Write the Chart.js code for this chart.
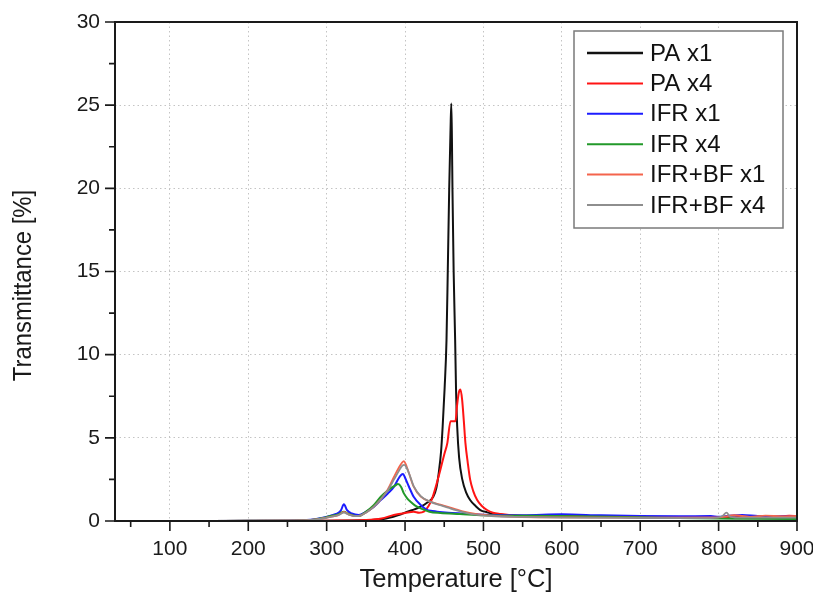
<!DOCTYPE html>
<html><head><meta charset="utf-8">
<script src="https://cdn.jsdelivr.net/npm/chart.js@4/dist/chart.umd.min.js"></script>
<style>html,body{margin:0;padding:0;background:#fff}#wrap{width:813px;height:596px}</style>
</head><body><div id="wrap"><canvas id="c" width="813" height="596"></canvas></div>
<script>
const FONT = "'Liberation Sans', Arial, Helvetica, sans-serif";

const seriesLabels = ["PA x1", "PA x4", "IFR x1", "IFR x4", "IFR+BF x1", "IFR+BF x4"];
const seriesColors = ["#111111", "#ff1414", "#1c1cff", "#22992a", "#f4644c", "#8e8e8e"];
const seriesWidths = [2, 2, 2, 2, 1.8, 1.8];
const yTitleText = "Transmittance [%]";
const xTitleText = "Temperature [\u00B0C]";

// PA x1
const paX1_T = [30, 100, 200, 300, 350, 370, 385, 395, 403, 412, 420, 428, 436, 440, 443, 446, 448, 450.5, 452.9, 454.5, 456.3, 458, 459, 459.8, 460.5, 462, 463.9, 465, 466.5, 469, 473, 478, 483, 490, 496, 505, 513, 530, 560, 600, 700, 800, 850, 900];
const paX1_V = [0, 0, 0.01, 0.02, 0.04, 0.1, 0.26, 0.4, 0.56, 0.7, 0.86, 1.1, 1.46, 2.0, 2.9, 4.2, 5.7, 8.0, 10.9, 15.0, 19.9, 23.5, 25.1, 23.0, 19.9, 15.0, 10.9, 8.0, 5.7, 3.8, 2.5, 1.7, 1.26, 0.9, 0.66, 0.52, 0.42, 0.35, 0.3, 0.28, 0.22, 0.18, 0.16, 0.15];

// PA x4
const paX4_T = [30, 200, 300, 350, 370, 385.7, 400, 411, 418, 424, 430, 434.6, 440, 445, 450, 454, 458, 464.4, 466, 468.5, 470.7, 472.8, 475, 477, 480, 483, 487, 492, 498, 504.6, 512, 521.7, 540, 600, 700, 790, 810, 820, 830, 850, 870, 890, 900];
const paX4_V = [0, 0, 0.02, 0.06, 0.15, 0.36, 0.48, 0.56, 0.5, 0.56, 0.9, 1.36, 2.2, 3.07, 4.0, 4.7, 6.0, 6.0, 6.8, 7.7, 7.9, 7.3, 6.0, 4.7, 3.5, 2.5, 1.8, 1.26, 0.9, 0.66, 0.5, 0.42, 0.33, 0.3, 0.24, 0.2, 0.22, 0.32, 0.24, 0.3, 0.26, 0.32, 0.3];

// IFR x1
const ifrX1_T = [30, 150, 250, 280, 295, 305, 312, 318, 322, 326, 332, 341, 350, 360, 369, 378, 386, 391, 395, 397.5, 400, 405, 411, 420, 428, 435, 441, 455, 475, 500, 550, 600, 650, 700, 750, 790, 800, 810, 830, 850, 900];
const ifrX1_V = [0, 0, 0.02, 0.08, 0.2, 0.32, 0.42, 0.62, 1.0, 0.65, 0.45, 0.36, 0.55, 0.85, 1.26, 1.65, 2.06, 2.5, 2.77, 2.82, 2.6, 2.06, 1.46, 0.96, 0.66, 0.6, 0.56, 0.5, 0.45, 0.38, 0.35, 0.4, 0.34, 0.3, 0.28, 0.3, 0.25, 0.3, 0.36, 0.3, 0.26];

// IFR x4
const ifrX4_T = [30, 150, 250, 280, 295, 305, 315, 322, 328, 335, 341, 350, 360, 369, 375, 381.5, 387, 391, 395, 398.5, 403, 407, 413, 420, 431, 445, 470, 500, 600, 700, 800, 900];
const ifrX4_V = [0, 0, 0.02, 0.06, 0.18, 0.3, 0.4, 0.55, 0.42, 0.32, 0.3, 0.55, 0.95, 1.46, 1.72, 1.96, 2.12, 2.22, 2.05, 1.66, 1.35, 1.16, 0.92, 0.76, 0.56, 0.48, 0.42, 0.35, 0.3, 0.22, 0.15, 0.12];

// IFR+BF x1
const ifrBfX1_T = [30, 150, 250, 280, 295, 305, 315, 322, 328, 335, 341, 350, 360, 369, 378, 386, 392, 396, 398.5, 401, 405, 411, 420, 432.5, 445, 453.6, 465, 475, 490, 510, 540, 600, 700, 800, 820, 840, 860, 880, 900];
const ifrBfX1_V = [0, 0, 0.02, 0.06, 0.15, 0.25, 0.35, 0.55, 0.4, 0.3, 0.3, 0.5, 0.85, 1.3, 1.9, 2.66, 3.2, 3.5, 3.6, 3.4, 2.87, 2.06, 1.46, 1.16, 0.98, 0.86, 0.7, 0.56, 0.42, 0.32, 0.25, 0.22, 0.2, 0.22, 0.35, 0.25, 0.32, 0.28, 0.3];

// IFR+BF x4
const ifrBfX4_T = [30, 150, 250, 280, 295, 305, 315, 322, 328, 335, 341, 350, 360, 369, 378, 386, 392, 396, 399, 402, 406, 411, 420, 432.5, 445, 455, 465, 475, 490, 510, 540, 600, 700, 790, 805, 810, 815, 830, 900];
const ifrBfX4_V = [0, 0, 0.02, 0.06, 0.15, 0.25, 0.35, 0.5, 0.38, 0.3, 0.3, 0.5, 0.85, 1.3, 1.85, 2.5, 3.0, 3.3, 3.37, 3.2, 2.75, 2.1, 1.5, 1.15, 0.95, 0.8, 0.65, 0.52, 0.38, 0.3, 0.25, 0.2, 0.18, 0.17, 0.3, 0.5, 0.25, 0.2, 0.2];

const xMajorTicks = [100, 200, 300, 400, 500, 600, 700, 800, 900];
const xMinorTicks = [50, 150, 250, 350, 450, 550, 650, 750, 850];
const yMajorTicks = [0, 5, 10, 15, 20, 25, 30];
const yMinorTicks = [2.5, 7.5, 12.5, 17.5, 22.5, 27.5];

const seriesT = [paX1_T, paX4_T, ifrX1_T, ifrX4_T, ifrBfX1_T, ifrBfX4_T];
const seriesV = [paX1_V, paX4_V, ifrX1_V, ifrX4_V, ifrBfX1_V, ifrBfX4_V];

const datasets = seriesLabels.map((lab, i) => ({
  label: lab,
  data: seriesT[i].map((t, k) => ({x: t, y: seriesV[i][k]})),
  borderColor: seriesColors[i],
  backgroundColor: seriesColors[i],
  borderWidth: seriesWidths[i],
  pointRadius: 0,
  cubicInterpolationMode: 'monotone',
  fill: false,
  order: 6 - i
}));

const framePlugin = {
  id: 'frameTicks',
  afterDatasetsDraw(chart) {
    const {ctx, chartArea: a, scales: {x, y}} = chart;
    ctx.save();
    ctx.strokeStyle = '#1a1a1a';
    ctx.lineWidth = 2;
    ctx.strokeRect(a.left, a.top, a.right - a.left, a.bottom - a.top);
    ctx.lineWidth = 1.6;
    ctx.beginPath();
    xMajorTicks.forEach(v => { const p = x.getPixelForValue(v); ctx.moveTo(p, a.bottom); ctx.lineTo(p, a.bottom + 10); });
    xMinorTicks.forEach(v => { const p = x.getPixelForValue(v); ctx.moveTo(p, a.bottom); ctx.lineTo(p, a.bottom + 6); });
    yMajorTicks.forEach(v => { const p = y.getPixelForValue(v); ctx.moveTo(a.left, p); ctx.lineTo(a.left - 10, p); });
    yMinorTicks.forEach(v => { const p = y.getPixelForValue(v); ctx.moveTo(a.left, p); ctx.lineTo(a.left - 6, p); });
    ctx.stroke();
    // y axis title
    ctx.translate(24, 285.5);
    ctx.rotate(-Math.PI / 2);
    ctx.scale(0.9, 1);
    ctx.font = '26.5px ' + FONT;
    ctx.fillStyle = '#1a1a1a';
    ctx.textAlign = 'center';
    ctx.textBaseline = 'middle';
    ctx.fillText(yTitleText, 0, 0);
    ctx.restore();
  }
};

const legendPlugin = {
  id: 'boxLegend',
  afterDraw(chart) {
    const ctx = chart.ctx;
    const bx = 574, by = 31, bw = 209, bh = 197;
    ctx.save();
    ctx.fillStyle = '#ffffff';
    ctx.fillRect(bx, by, bw, bh);
    ctx.strokeStyle = '#7a7a7a';
    ctx.lineWidth = 1.5;
    ctx.strokeRect(bx, by, bw, bh);
    ctx.font = '24px ' + FONT;
    ctx.textBaseline = 'middle';
    ctx.textAlign = 'left';
    chart.data.datasets.forEach((ds, i) => {
      const yy = 53 + i * 30.4;
      ctx.strokeStyle = ds.borderColor;
      ctx.lineWidth = i === 0 ? 2.4 : 2;
      ctx.beginPath(); ctx.moveTo(587, yy); ctx.lineTo(643, yy); ctx.stroke();
      ctx.fillStyle = '#111';
      ctx.fillText(ds.label, 650, yy + 1);
    });
    ctx.restore();
  }
};

new Chart(document.getElementById('c'), {
  type: 'line',
  data: {datasets},
  options: {
    responsive: false,
    animation: false,
    devicePixelRatio: 1,
    layout: {padding: {top: 22, right: 16, left: 0, bottom: 0}},
    plugins: {legend: {display: false}, tooltip: {enabled: false}},
    scales: {
      x: {
        type: 'linear', min: 30, max: 900,
        afterBuildTicks: s => { s.ticks = xMajorTicks.map(v => ({value: v})); },
        afterFit: s => { s.height = 75; s.paddingLeft = 0; s.paddingRight = 0; },
        border: {display: false, dash: [1.5, 3]},
        grid: {
          color: c => (c.tick && c.tick.value < 900) ? '#c4c4c4' : 'rgba(0,0,0,0)',
          lineWidth: 1, tickLength: 10, tickColor: 'rgba(0,0,0,0)',
          drawTicks: true
        },
        ticks: {color: '#1a1a1a', font: {family: FONT, size: 21}, padding: 6, maxRotation: 0, autoSkip: false},
        title: {display: true, text: xTitleText, color: '#1a1a1a', font: {family: FONT, size: 25.5}, padding: {top: 0, bottom: 1}}
      },
      y: {
        type: 'linear', min: 0, max: 30,
        afterBuildTicks: s => { s.ticks = yMajorTicks.map(v => ({value: v})); },
        afterFit: s => { s.width = 115; s.paddingTop = 0; s.paddingBottom = 0; },
        border: {display: false, dash: [1.5, 3]},
        grid: {
          color: c => (c.tick && c.tick.value > 0 && c.tick.value < 30) ? '#c4c4c4' : 'rgba(0,0,0,0)',
          lineWidth: 1, tickLength: 10, tickColor: 'rgba(0,0,0,0)',
          drawTicks: true
        },
        ticks: {color: '#1a1a1a', font: {family: FONT, size: 21}, padding: 5},
        title: {display: false}
      }
    }
  },
  plugins: [framePlugin, legendPlugin]
});
</script>
</body></html>
